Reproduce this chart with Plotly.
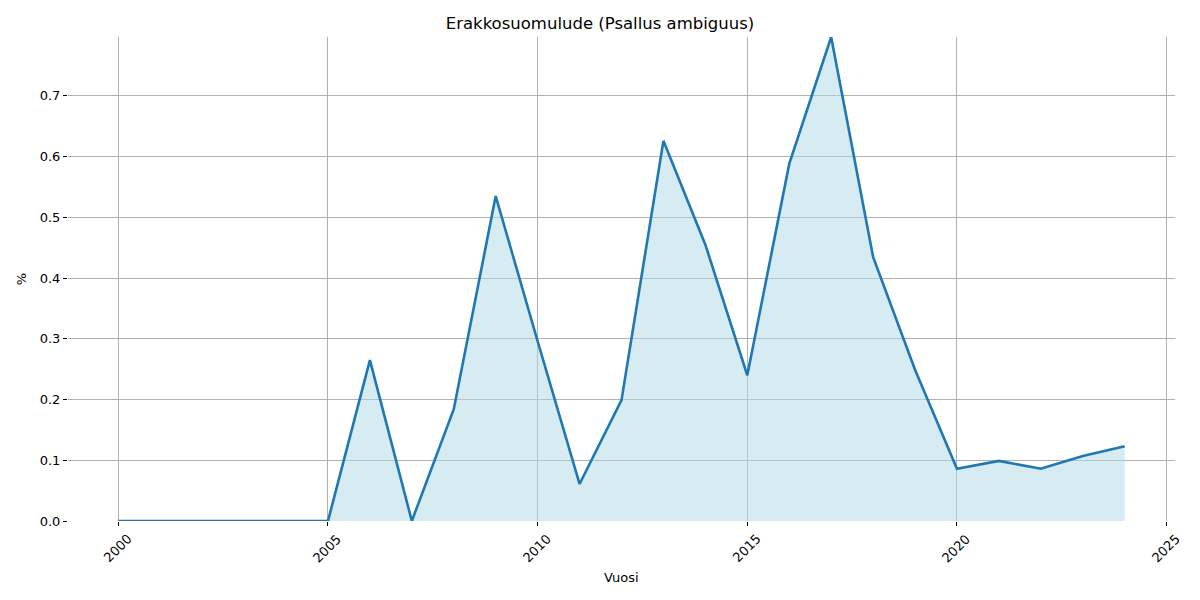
import plotly.graph_objects as go

# Vuosittaiset osuudet (%)
vuodet = list(range(2000, 2025))
osuus = [0.0, 0.0, 0.0, 0.0, 0.0, 0.0, 0.265, 0.0, 0.184, 0.535,
         0.296, 0.061, 0.199, 0.626, 0.455, 0.240, 0.588, 0.797, 0.435, 0.249,
         0.086, 0.099, 0.086, 0.107, 0.123]
x_tikit = [2000, 2005, 2010, 2015, 2020, 2025]
y_tikit = [0.0, 0.1, 0.2, 0.3, 0.4, 0.5, 0.6, 0.7]

FONTTI = "DejaVu Sans"

fig = go.Figure()
fig.add_trace(go.Scatter(
    x=vuodet, y=osuus, mode="lines", fill="tozeroy",
    fillcolor="rgba(173,216,230,0.5)",
    line=dict(color="#1f77b4", width=2.6),
    showlegend=False))

# x-akselin tikkitekstit 45 asteen kulmassa, keskitettynä tikin alle (kuten matplotlib)
for v in x_tikit:
    fig.add_annotation(
        x=v, y=0, xref="x", yref="paper", text=str(v), showarrow=False,
        textangle=-45, xanchor="center", yanchor="middle", yshift=-27, xshift=-1,
        font=dict(family=FONTTI, size=13, color="black"))

fig.add_annotation(
    x=0.5, y=0, xref="paper", yref="paper", text="Vuosi", showarrow=False,
    xanchor="center", yanchor="middle", yshift=-56,
    font=dict(family=FONTTI, size=13, color="black"))

fig.update_layout(
    width=1200, height=600,
    paper_bgcolor="white", plot_bgcolor="white",
    margin=dict(l=68, r=25, t=37, b=79, autoexpand=False),
    font=dict(family=FONTTI, size=13, color="black"),
    title=dict(text="Erakkosuomulude (Psallus ambiguus)", x=0.5, xanchor="center",
               y=1 - 23 / 600, yanchor="middle", yref="container",
               font=dict(size=16.5, family=FONTTI, color="black")),
)
fig.update_xaxes(
    range=[1998.8, 2025.2], tickvals=x_tikit, showticklabels=False,
    showgrid=True, gridcolor="#b0b0b0", gridwidth=1,
    ticks="outside", ticklen=4, tickcolor="black",
    showline=False, zeroline=False, automargin=False)
fig.update_yaxes(
    range=[0, 0.797], tickvals=y_tikit, tickformat=".1f",
    tickfont=dict(family=FONTTI, size=13, color="black"),
    showgrid=True, gridcolor="#b0b0b0", gridwidth=1,
    ticks="outside", ticklen=4, tickcolor="black",
    showline=False, zeroline=False, automargin=False,
    title=dict(text="%", standoff=10, font=dict(family=FONTTI, size=13, color="black")))

# sivun oletusreunus pois, jotta kuva alkaa vasemmasta yläkulmasta
fig.write_html("out.html", config={"displayModeBar": False},
               post_script="document.body.style.margin='0px';")
